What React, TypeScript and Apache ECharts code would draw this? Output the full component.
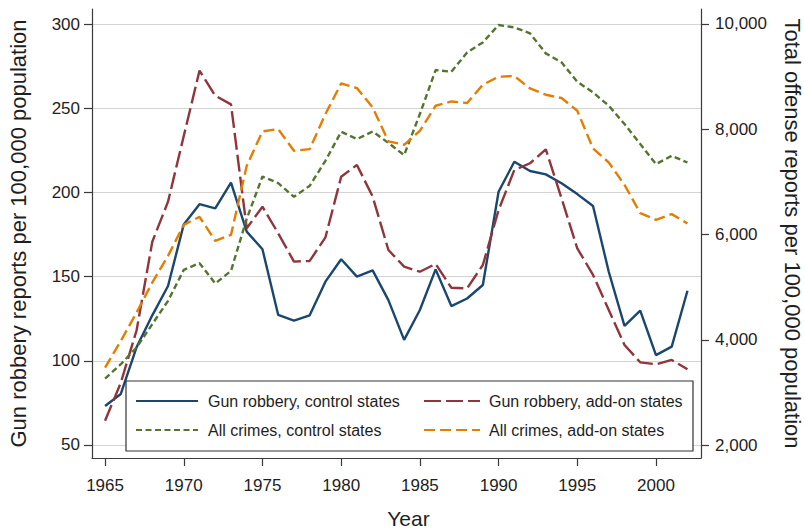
import React, { useEffect, useRef } from "react";
import * as echarts from "echarts";

const years = [1965, 1966, 1967, 1968, 1969, 1970, 1971, 1972, 1973, 1974, 1975, 1976, 1977, 1978, 1979, 1980, 1981, 1982, 1983, 1984, 1985, 1986, 1987, 1988, 1989, 1990, 1991, 1992, 1993, 1994, 1995, 1996, 1997, 1998, 1999, 2000, 2001, 2002];

const gunControl = [73.2, 80.3, 108, 127, 144.4, 181, 193, 190.5, 205.8, 176.7, 166.2, 127.2, 123.8, 127, 147, 160.3, 150, 153.7, 136, 112.4, 130.2, 154.3, 132.5, 137, 145, 200.4, 218.2, 212.7, 210.7, 205.4, 199, 191.9, 152.9, 120.7, 129.8, 103.4, 108.4, 141.6];
const gunAddon = [64.4, 87, 118, 170.7, 194.5, 233.5, 272.3, 257.4, 252.3, 178.7, 191.5, 175.7, 158.9, 159.3, 173.3, 209.3, 216.3, 197.5, 165.8, 155.9, 152.9, 157.5, 143.4, 143, 156.9, 189.5, 213.3, 217.3, 225.6, 196.5, 166.8, 151, 130.2, 109.4, 99.1, 97.9, 100.5, 95];
const allControl = [3261, 3535, 3851, 4296, 4739, 5328, 5455, 5068, 5309, 6300, 7102, 6977, 6716, 6925, 7401, 7952, 7813, 7958, 7740, 7509, 8289, 9125, 9093, 9460, 9650, 9981, 9935, 9822, 9441, 9271, 8903, 8700, 8447, 8098, 7718, 7338, 7496, 7368];
const allAddon = [3470, 3978, 4516, 5087, 5594, 6184, 6336, 5879, 5993, 7306, 7958, 8003, 7591, 7623, 8289, 8871, 8783, 8414, 7770, 7705, 7971, 8447, 8528, 8498, 8846, 8998, 9011, 8775, 8656, 8593, 8351, 7635, 7368, 6944, 6406, 6279, 6387, 6208];

const xTicks = [1965, 1970, 1975, 1980, 1985, 1990, 1995, 2000];
const leftTicks = [50, 100, 150, 200, 250, 300];
const rightTicks = [2000, 4000, 6000, 8000, 10000];

const FONT = "'Liberation Sans', Arial, Helvetica, sans-serif";
const AXIS_COLOR = "#3a3a3a";
const TEXT_COLOR = "#1e1e1e";

export default function App() {
  const ref = useRef<HTMLDivElement>(null);

  useEffect(() => {
    if (!ref.current) return;
    const chart = echarts.init(ref.current, null, { renderer: "svg" });
    const pair = (arr: number[]) => years.map((y, i) => [y, arr[i]]);

    const lineSeries = (name: string, data: number[], color: string, yAxisIndex: number, dash: any) => ({
      name,
      type: "line",
      yAxisIndex,
      data: pair(data),
      symbol: "none",
      showSymbol: false,
      z: 3,
      lineStyle: { color, width: 2.4, type: dash, cap: "butt" },
      itemStyle: { color },
    });

    const legendCommon = {
      orient: "vertical",
      top: 392,
      padding: 0,
      itemGap: 11,
      itemHeight: 14,
      z: 10,
      itemStyle: { opacity: 0, borderWidth: 0 },
    };

    chart.setOption({
      animation: false,
      backgroundColor: "#ffffff",
      textStyle: { fontFamily: FONT },
      grid: { left: 92, right: 104, top: 9, bottom: 71, outerBoundsMode: "none", containLabel: false },
      xAxis: {
        type: "value",
        min: 1964.17,
        max: 2002.86,
        name: "Year",
        nameLocation: "middle",
        nameGap: 50,
        nameTextStyle: { fontSize: 21, color: TEXT_COLOR, fontFamily: FONT, padding: [0, 0, 0, 24] },
        axisLine: { show: true, onZero: false, lineStyle: { color: AXIS_COLOR, width: 1.2 } },
        axisTick: { show: true, inside: false, length: 8, customValues: xTicks, lineStyle: { color: AXIS_COLOR, width: 1.2 } },
        axisLabel: { customValues: xTicks, fontSize: 17, color: TEXT_COLOR, margin: 19, fontFamily: FONT, formatter: (v: number) => String(v) },
        splitLine: { show: false },
      },
      yAxis: [
        {
          type: "value",
          position: "left",
          min: 42.28,
          max: 308.91,
          name: "Gun robbery reports per 100,000 population",
          nameLocation: "middle",
          nameGap: 63,
          nameRotate: 90,
          nameTextStyle: { fontSize: 22, color: TEXT_COLOR, fontFamily: FONT },
          axisLine: { show: true, onZero: false, lineStyle: { color: AXIS_COLOR, width: 1.2 } },
          axisTick: { show: true, inside: false, length: 8, customValues: leftTicks, lineStyle: { color: AXIS_COLOR, width: 1.2 } },
          axisLabel: { customValues: leftTicks, fontSize: 17, color: TEXT_COLOR, margin: 12, fontFamily: FONT },
          splitLine: { show: true, lineStyle: { color: "#d4d4d4", width: 1.2 } },
        },
        {
          type: "value",
          position: "right",
          min: 1753,
          max: 10285,
          name: "Total offense reports per 100,000 population",
          nameLocation: "middle",
          nameGap: 80,
          nameRotate: -90,
          nameTextStyle: { fontSize: 22, color: TEXT_COLOR, fontFamily: FONT },
          axisLine: { show: true, onZero: false, lineStyle: { color: AXIS_COLOR, width: 1.2 } },
          axisTick: { show: true, inside: false, length: 8, customValues: rightTicks, lineStyle: { color: AXIS_COLOR, width: 1.2 } },
          axisLabel: {
            customValues: rightTicks,
            fontSize: 17,
            color: TEXT_COLOR,
            margin: 14,
            fontFamily: FONT,
            formatter: (v: number) => v.toLocaleString("en-US"),
          },
          splitLine: { show: false },
        },
      ],
      legend: [
        {
          ...legendCommon,
          data: ["Gun robbery, control states", "All crimes, control states"],
          left: 135,
          itemWidth: 62,
          textStyle: { fontSize: 16, color: TEXT_COLOR, fontFamily: FONT, lineHeight: 18, padding: [0, 0, 0, 5] },
        },
        {
          ...legendCommon,
          data: ["Gun robbery, add-on states", "All crimes, add-on states"],
          left: 423,
          itemWidth: 56,
          textStyle: { fontSize: 16, color: TEXT_COLOR, fontFamily: FONT, lineHeight: 18, padding: [0, 0, 0, 4] },
        },
      ],
      graphic: [
        {
          type: "rect",
          z: 5,
          shape: { x: 126, y: 381, width: 567, height: 70 },
          style: { fill: "#ffffff", stroke: "#333333", lineWidth: 1.2 },
        },
      ],
      series: [
        lineSeries("Gun robbery, control states", gunControl, "#1a476f", 0, "solid"),
        lineSeries("Gun robbery, add-on states", gunAddon, "#90353b", 0, [17, 5]),
        lineSeries("All crimes, control states", allControl, "#55752f", 1, [6, 3.5]),
        lineSeries("All crimes, add-on states", allAddon, "#e37e00", 1, [11, 5]),
      ],
    });

    return () => chart.dispose();
  }, []);

  return (
    <div
      ref={ref}
      style={{ position: "fixed", left: 0, top: 0, width: 805, height: 529, background: "#fff" }}
    />
  );
}
